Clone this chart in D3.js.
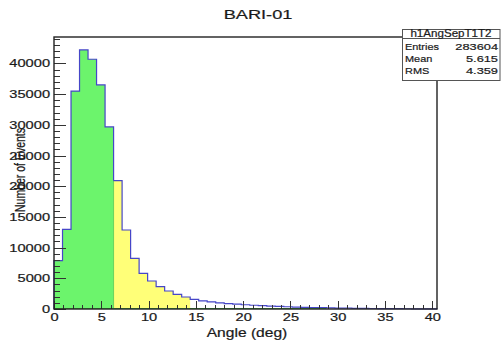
<!DOCTYPE html>
<head>
  <meta charset="utf-8">
  <title>BARI-01</title>
</head>
<style>
body {
  margin: 0;
  background: white;
}
text {
  font-family: "Liberation Sans", Arial, sans-serif;
  fill: #1a1a1a;
  stroke: #1a1a1a;
  stroke-width: 0.2px;
}
.axis path {
  display: none;
}
.axis line {
  stroke: #333;
  shape-rendering: crispEdges;
}
</style>
<body>
<div id="chart"></div>

<script src="https://d3js.org/d3.v7.min.js"></script>
<script>

// histogram h1AngSepT1T2, 45 bins of 0.9 deg from 0 to 40.5
var binWidth = 0.9;
var counts = [7870, 12980, 35500, 42190, 40680, 36490, 29650,
              20900, 12870, 8260, 5815, 4560, 3630, 2930, 2390, 1955,
              1580, 1330, 1150, 1000, 880, 780, 690, 610, 540, 480, 420, 370,
              320, 280, 240, 210, 180, 150, 130, 110, 95, 80, 65, 55, 45, 38, 30, 25, 20];
var greenBins = [0, 7];    // bin index range [from, to)
var yellowBins = [7, 16];
var zeroLineEnd = 32;      // green line along zero goes up to this bin

var xMajor = [0, 5, 10, 15, 20, 25, 30, 35, 40];
var xMinor = d3.range(0, 41, 1);
var yMajor = [0, 5000, 10000, 15000, 20000, 25000, 30000, 35000, 40000];
var yMinor = d3.range(0, 44001, 1000);

var stats = [["Entries", "283604"], ["Mean", "5.615"], ["RMS", "4.359"]];

var W = 501, H = 342;
var stretch = 1.33;   // picture was widened, text looks wide

var svg = d3.select("#chart").append("svg")
    .attr("width", W)
    .attr("height", H);

var x = d3.scaleLinear().domain([0, 40.5]).range([54, 437]);
var y = d3.scaleLinear().domain([0, 44300]).range([309, 37]);

// points for step shapes: bin edge with its count
function stepPoints(from, to) {
  var pts = [];
  for (var i = from; i < to; i++) pts.push([i * binWidth, counts[i]]);
  pts.push([to * binWidth, counts[to - 1]]);
  return pts;
}

var area = d3.area()
    .x(function(d) { return x(d[0]); })
    .y0(y(0))
    .y1(function(d) { return y(d[1]); })
    .curve(d3.curveStepAfter);

svg.append("path")
    .attr("d", area(stepPoints(greenBins[0], greenBins[1])))
    .attr("fill", "#6cf46c");

svg.append("path")
    .attr("d", area(stepPoints(yellowBins[0], yellowBins[1])))
    .attr("fill", "#ffff78");

// outline of full histogram
var outline = [[0, 0]].concat(stepPoints(0, counts.length));
outline.push([counts.length * binWidth, 0]);
var line = d3.line()
    .x(function(d) { return x(d[0]); })
    .y(function(d) { return y(d[1]); })
    .curve(d3.curveStepAfter);

svg.append("path")
    .attr("d", line(outline))
    .attr("fill", "none")
    .attr("stroke", "#4646c8")
    .attr("stroke-width", 1.2);

// green border line on the boundary and along zero
svg.append("line")
    .attr("x1", x(greenBins[1] * binWidth)).attr("x2", x(greenBins[1] * binWidth))
    .attr("y1", y(0)).attr("y2", y(counts[greenBins[1]]))
    .attr("stroke", "#4cc84c").attr("stroke-width", 0.8);
svg.append("line")
    .attr("x1", x(0)).attr("x2", x(zeroLineEnd * binWidth))
    .attr("y1", y(0) - 0.5).attr("y2", y(0) - 0.5)
    .attr("stroke", "#3cb43c").attr("stroke-width", 1.2);

// axes with inward ticks
svg.append("g")
    .attr("class", "axis")
    .attr("transform", "translate(0," + y(0) + ")")
    .call(d3.axisBottom(x).tickValues(xMinor).tickSize(-4).tickFormat(""));
var xAxis = svg.append("g")
    .attr("class", "axis")
    .attr("transform", "translate(0," + y(0) + ")")
    .call(d3.axisBottom(x).tickValues(xMajor).tickSize(-8).tickPadding(4));

svg.append("g")
    .attr("class", "axis")
    .attr("transform", "translate(" + x(0) + ",0)")
    .call(d3.axisLeft(y).tickValues(yMinor).tickSize(-6).tickFormat(""));
var yAxis = svg.append("g")
    .attr("class", "axis")
    .attr("transform", "translate(" + x(0) + ",0)")
    .call(d3.axisLeft(y).tickValues(yMajor).tickSize(-12).tickPadding(3).tickFormat(d3.format("d")));

[xAxis, yAxis].forEach(function(a) {
  a.selectAll("text")
      .attr("font-size", "11px")
      .attr("font-family", "Liberation Sans, Arial, sans-serif")
      .attr("fill", "#1a1a1a")
      .attr("transform", "scale(" + stretch + ",1)");
});

// frame
svg.append("rect")
    .attr("x", x(0)).attr("y", y(44300))
    .attr("width", x(40.5) - x(0)).attr("height", y(0) - y(44300))
    .attr("fill", "none")
    .attr("stroke", "#222")
    .attr("stroke-width", 1.4);

// title and axis titles
svg.append("text")
    .attr("transform", "translate(258,19) scale(1.4,1)")
    .attr("text-anchor", "middle")
    .style("font-size", "13px")
    .text("BARI-01");

svg.append("text")
    .attr("transform", "translate(247,337) scale(1.3,1)")
    .attr("text-anchor", "middle")
    .style("font-size", "12px")
    .text("Angle (deg)");

svg.append("text")
    .attr("transform", "translate(25,170) scale(1.35,1) rotate(-90)")
    .attr("text-anchor", "middle")
    .style("font-size", "10.5px")
    .text("Number of Events");

// stats box
var box = svg.append("g");
box.append("rect")
    .attr("x", 402.5).attr("y", 29.5)
    .attr("width", 97.5).attr("height", 51)
    .attr("fill", "white")
    .attr("stroke", "#555");
box.append("line")
    .attr("x1", 402.5).attr("x2", 500)
    .attr("y1", 38.5).attr("y2", 38.5)
    .attr("stroke", "#555");
box.append("text")
    .attr("transform", "translate(451,36.7) scale(1.16,1)")
    .attr("text-anchor", "middle")
    .style("font-size", "10px")
    .text("h1AngSepT1T2");

box.selectAll(".lab")
    .data(stats)
    .enter()
    .append("text")
    .attr("transform", function(d, i) { return "translate(405," + (49.6 + i * 12) + ") scale(1.15,1)"; })
    .style("font-size", "9.5px")
    .text(function(d) { return d[0]; });

box.selectAll(".val")
    .data(stats)
    .enter()
    .append("text")
    .attr("transform", function(d, i) { return "translate(498," + (49.6 + i * 12) + ") scale(1.35,1)"; })
    .attr("text-anchor", "end")
    .style("font-size", "9.5px")
    .text(function(d) { return d[1]; });

</script>
</body>
